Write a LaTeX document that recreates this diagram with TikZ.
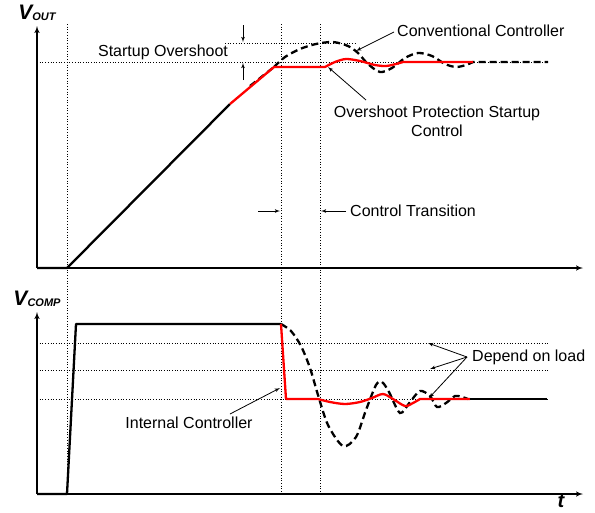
\documentclass[tikz,border=0pt]{standalone}
\usepackage{fontspec}
\setmainfont{Liberation Sans}
\usepackage{tikz}
\usetikzlibrary{arrows,positioning}

\begin{document}
\begin{tikzpicture}[x=1pt,y=-1pt,
  axis/.style={line width=1.4pt,-latex'},
  guide/.style={dotted,line width=0.7pt},
  pointer/.style={line width=0.8pt,-latex'},
  solidtrace/.style={line width=2.3pt,line join=round},
  redtrace/.style={line width=2.3pt,red,line join=round},
  conventional/.style={line width=2.3pt,dash pattern=on 7pt off 4pt},
  label/.style={font=\fontsize{16}{19}\selectfont,inner sep=0pt}]
\useasboundingbox (0,0) rectangle (595,512);

%axes
\coordinate (outO) at (37,268);
\coordinate (outY) at (37,26);
\coordinate (outX) at (583,268);
\coordinate (compO) at (37,494);
\coordinate (compY) at (37,312);
\coordinate (compX) at (583,494);

\node[inner sep=0pt] at (37,13) (vout) {\bfseries\itshape\fontsize{21}{21}\selectfont V\raisebox{-1.5pt}{\fontsize{11}{11}\selectfont OUT}};
\node[inner sep=0pt] at (37,299) (vcomp) {\bfseries\itshape\fontsize{21}{21}\selectfont V\raisebox{-1.5pt}{\fontsize{11}{11}\selectfont COMP}};
\node[inner sep=0pt] at (561,501) (tlabel) {\bfseries\itshape\fontsize{20}{20}\selectfont t};

%guides
\coordinate (startA) at (67,24);
\coordinate (startB) at (67,494);
\coordinate (switchA) at (281,24);
\coordinate (switchB) at (281,494);
\coordinate (settleA) at (320,24);
\coordinate (settleB) at (320,494);

\coordinate (peakA) at (225,43);
\coordinate (peakB) at (356,43);
\coordinate (finalA) at (37,62);
\coordinate (finalB) at (548,62);

\coordinate (loadA) at (37,343);
\coordinate (loadB) at (548,343);
\coordinate (loadC) at (37,370);
\coordinate (loadD) at (548,370);
\coordinate (loadE) at (37,399);
\coordinate (loadF) at (548,399);

\draw[guide] (startA) -- (startB);
\draw[guide] (switchA) -- (switchB);
\draw[guide] (settleA) -- (settleB);
\draw[guide] (peakA) -- (peakB);
\draw[guide] (finalA) -- (finalB);
\draw[guide] (loadA) -- (loadB);
\draw[guide] (loadC) -- (loadD);
\draw[guide] (loadE) -- (loadF);

\draw[axis] (outO) -- (outY);
\draw[axis] (outO) -- (outX);
\draw[axis] (compO) -- (compY);
\draw[axis] (compO) -- (compX);

%output voltage
\draw[conventional] (250,86) -- (274,67) plot[smooth] coordinates {(274,67) (285,57) (300,49) (316,44) (333,42) (348,46) (358,53) (368,64) (380,72) (392,68) (405,58) (418,53) (432,56) (445,64) (456,67) (466,65) (473,62)} -- (548,62);
\draw[solidtrace] (outO) -- (67,268) -- (230,104);
\draw[redtrace] (230,104) -- (274,67) -- (325,67) plot[smooth] coordinates {(325,67) (335,62) (346,59) (360,61) (375,65) (386,66) (396,64) (403,62)} -- (473,62);

%comp voltage
\draw[conventional] plot[smooth] coordinates {(281,324) (291,331) (301,346) (310,368) (318,395) (328,425) (343,446) (356,437) (366,410) (376,385) (382,382) (389,392) (400,413) (410,402) (420,391) (430,396) (437,407) (446,403) (455,396) (462,397) (468,399)};
\draw[solidtrace] (compO) -- (67,494) -- (76,324) -- (281,324);
\draw[redtrace] (281,324) -- (286,399) -- (318,399) plot[smooth] coordinates {(318,399) (330,402) (345,404) (360,402) (372,398) (383,394) (393,399) (405,406) (413,403) (420,399)} -- (470,399);
\draw[solidtrace] (470,399) -- (547,399);

%overshoot arrows
\coordinate (osTop) at (243,25);
\coordinate (osTopEnd) at (243,42);
\coordinate (osBot) at (243,80);
\coordinate (osBotEnd) at (243,63);
\draw[pointer] (osTop) -- (osTopEnd);
\draw[pointer] (osBot) -- (osBotEnd);
\node[label] at (163,52) (overshoot) {Startup Overshoot};

\node[label,anchor=west] at (397,31) (conv) {Conventional Controller};
\coordinate (convEnd) at (356,51);
\draw[pointer] (conv.west) ++(-3,1) -- (convEnd);

\node[label,align=center] at (437,121) (protect) {Overshoot Protection Startup\\Control};
\coordinate (protectStart) at (366,100);
\coordinate (protectEnd) at (328,67);
\draw[pointer] (protectStart) -- (protectEnd);

%transition
\node[label,anchor=west] at (350,211) (trans) {Control Transition};
\coordinate (transA) at (258,211);
\coordinate (transB) at (280,211);
\coordinate (transC) at (346,211);
\coordinate (transD) at (321,211);
\draw[pointer] (transA) -- (transB);
\draw[pointer] (transC) -- (transD);

%internal controller
\node[label] at (189,423) (internal) {Internal Controller};
\coordinate (internalA) at (230,414);
\coordinate (internalB) at (280,388);
\draw[pointer] (internalA) -- (internalB);

%load
\node[label,anchor=west] at (472,357) (load) {Depend on load};
\coordinate (loadHub) at (467,357);
\coordinate (loadTipA) at (428,343);
\coordinate (loadTipB) at (430,369);
\coordinate (loadTipC) at (429,398);
\draw[pointer] (loadHub) -- (loadTipA);
\draw[pointer] (loadHub) -- (loadTipB);
\draw[pointer] (loadHub) -- (loadTipC);

\end{tikzpicture}
\end{document}
